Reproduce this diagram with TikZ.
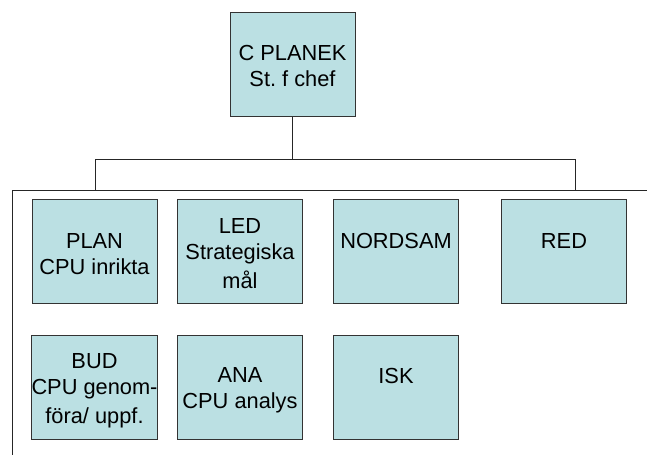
\documentclass[tikz,border=0pt]{standalone}
\usepackage{fontspec}
\setmainfont{Liberation Sans}
\frenchspacing
\definecolor{boxfill}{HTML}{BBE0E3}
\definecolor{edge}{HTML}{333333}
\newcommand\lnstrut{\rule[-3.5pt]{0pt}{26pt}}
\begin{document}
\begin{tikzpicture}[x=1pt,y=-1pt,
  orgbox/.style={draw=edge, line width=1pt, fill=boxfill, minimum width=125pt,
    minimum height=104pt, inner sep=0pt, align=center,
    font={\fontsize{21.8}{26}\selectfont}},
  conn/.style={draw=black!85, line width=1pt}]
\useasboundingbox (0,0) rectangle (647,455);
\node[orgbox] (top) at (292.5,64) {\lnstrut C PLANEK\\\lnstrut St. f chef};
\node[orgbox] (plan) at (94.5,251.5) {\lnstrut PLAN\\\lnstrut CPU inrikta};
\node[orgbox] (led) at (240,251.5) {\lnstrut LED\\\lnstrut Strategiska\\\lnstrut mål};
\node[orgbox] (nordsam) at (396,251.5) {\lnstrut NORDSAM\\\lnstrut};
\node[orgbox] (red) at (564,251.5) {\lnstrut RED\\\lnstrut};
\node[orgbox] (bud) at (94.5,387) {\lnstrut BUD\\\lnstrut CPU genom-\\\lnstrut föra/ uppf.};
\node[orgbox] (ana) at (240,387) {\lnstrut ANA\\\lnstrut CPU analys};
\node[orgbox] (isk) at (396,387) {\lnstrut ISK\\\lnstrut};
\coordinate (j) at (292.5,159);
\coordinate (jl) at (95,159);
\coordinate (jr) at (575,159);
\coordinate (dl) at (95,190);
\coordinate (dr) at (575,190);
\coordinate (L) at (12,190);
\coordinate (R) at (647,190);
\coordinate (B) at (12,455);
\draw[conn] (top.south) -- (j);
\draw[conn] (dl) -- (jl) -- (jr) -- (dr);
\draw[conn] (R) -- (L) -- (B);
\end{tikzpicture}
\end{document}
